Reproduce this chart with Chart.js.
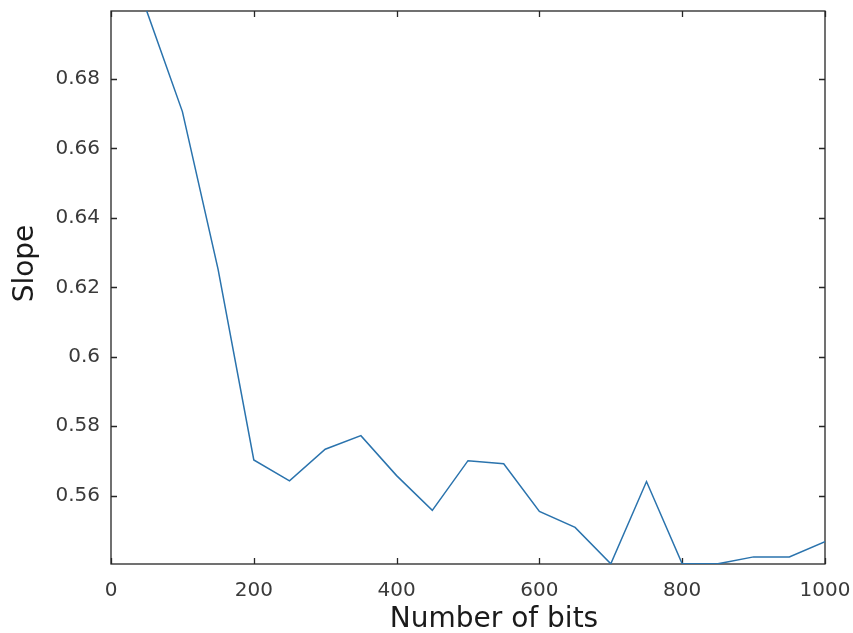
<!DOCTYPE html>
<html>
<head>
<meta charset="utf-8">
<script src="https://cdn.jsdelivr.net/npm/chart.js@4.4.1/dist/chart.umd.min.js"></script>
<style>
  html, body { margin: 0; padding: 0; background: #ffffff; }
  #wrap { width: 853px; height: 633px; }
</style>
</head>
<body>
<div id="wrap"><canvas id="c" width="853" height="633"></canvas></div>
<script>
// ---- data ----
const bits = [50, 100, 150, 200, 250, 300, 350, 400, 450, 500, 550, 600, 650, 700, 750, 800, 850, 900, 950, 1000];
const slope = [0.6996, 0.6706, 0.6252, 0.5703, 0.5643, 0.5734, 0.5773, 0.5658, 0.5558, 0.5701, 0.5692, 0.5555, 0.5509, 0.5404, 0.5641, 0.5404, 0.5404, 0.5424, 0.5424, 0.5468];
const xTickValues = [0, 200, 400, 600, 800, 1000];
const xTickLabels = ['0', '200', '400', '600', '800', '1000'];
const yTickValues = [0.56, 0.58, 0.60, 0.62, 0.64, 0.66, 0.68];
const yTickLabels = ['0.56', '0.58', '0.6', '0.62', '0.64', '0.66', '0.68'];
const xTitle = 'Number of bits';
const yTitle = 'Slope';
const xRange = [0, 1000];
const yRange = [0.54035, 0.69957];

Chart.defaults.font.family = "'DejaVu Sans', sans-serif";

const frameAndTitles = {
  id: 'frameAndTitles',
  beforeDatasetsDraw(chart) {
    const { ctx, chartArea: { left, right, top, bottom }, scales: { x, y } } = chart;
    ctx.save();
    ctx.strokeStyle = '#262626';
    ctx.lineWidth = 1.3;
    ctx.strokeRect(left, top, right - left, bottom - top);
    const tl = 6;
    ctx.beginPath();
    x.ticks.forEach(t => {
      const px = Math.round(x.getPixelForValue(t.value)) + 0.5;
      ctx.moveTo(px, bottom); ctx.lineTo(px, bottom - tl);
      ctx.moveTo(px, top); ctx.lineTo(px, top + tl);
    });
    y.ticks.forEach(t => {
      const py = Math.round(y.getPixelForValue(t.value)) + 0.5;
      ctx.moveTo(left, py); ctx.lineTo(left + tl, py);
      ctx.moveTo(right, py); ctx.lineTo(right - tl, py);
    });
    ctx.stroke();
    ctx.restore();
  },
  afterDraw(chart) {
    const { ctx, chartArea: { left, right, top, bottom } } = chart;
    ctx.save();
    ctx.fillStyle = '#1a1a1a';
    ctx.font = "28px 'DejaVu Sans', sans-serif";
    ctx.textAlign = 'center';
    ctx.textBaseline = 'alphabetic';
    ctx.fillText(xTitle, (left + right) / 2 + 26, bottom + 63);
    ctx.translate(33, (top + bottom) / 2 - 24);
    ctx.rotate(-Math.PI / 2);
    ctx.fillText(yTitle, 0, 0);
    ctx.restore();
  }
};

function noPad(s) { s.paddingLeft = 0; s.paddingRight = 0; s.paddingTop = 0; s.paddingBottom = 0; }

new Chart(document.getElementById('c'), {
  type: 'line',
  data: {
    datasets: [{
      data: bits.map((b, i) => ({ x: b, y: slope[i] })),
      borderColor: '#2a73ad',
      borderWidth: 1.5,
      pointRadius: 0,
      fill: false,
      tension: 0
    }]
  },
  options: {
    responsive: false,
    animation: false,
    devicePixelRatio: 1,
    layout: { padding: { top: 11, right: 28, left: 0, bottom: 0 } },
    plugins: { legend: { display: false }, tooltip: { enabled: false } },
    scales: {
      x: {
        type: 'linear',
        min: xRange[0], max: xRange[1],
        grid: { display: false, drawTicks: false },
        border: { display: false },
        afterBuildTicks: s => { s.ticks = xTickValues.map(v => ({ value: v })); },
        afterFit: s => { s.height = 69; noPad(s); },
        ticks: {
          autoSkip: false, maxRotation: 0, padding: 15,
          color: '#3a3a3a', font: { size: 20 },
          callback: (v) => xTickLabels[xTickValues.indexOf(v)]
        }
      },
      y: {
        type: 'linear',
        min: yRange[0], max: yRange[1],
        grid: { display: false, drawTicks: false },
        border: { display: false },
        afterBuildTicks: s => { s.ticks = yTickValues.map(v => ({ value: v })); },
        afterFit: s => { s.width = 111; noPad(s); },
        ticks: {
          autoSkip: false, padding: 11,
          color: '#3a3a3a', font: { size: 20 },
          callback: (v) => {
            const i = yTickValues.findIndex(t => Math.abs(t - v) < 1e-9);
            return i >= 0 ? yTickLabels[i] : '';
          }
        }
      }
    }
  },
  plugins: [frameAndTitles]
});
</script>
</body>
</html>
